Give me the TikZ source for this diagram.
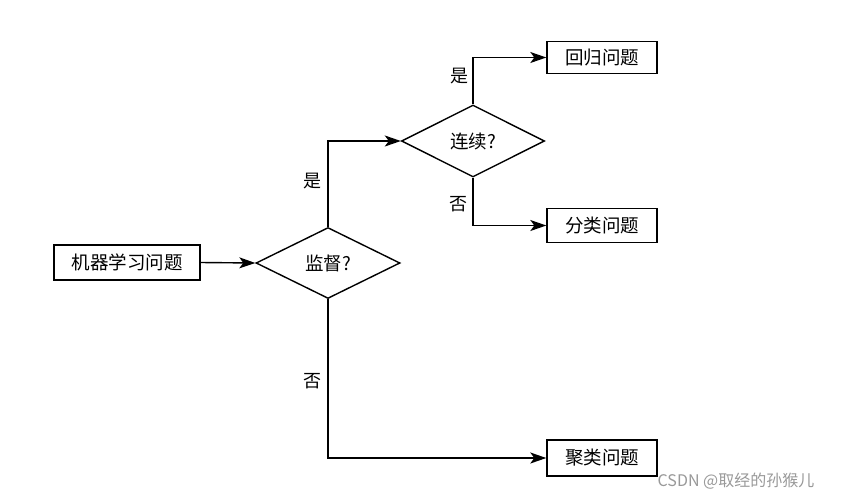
\documentclass[tikz,border=0pt]{standalone}
\usepackage{fontspec}
\setmainfont{Noto Sans CJK SC}
\usetikzlibrary{shapes.geometric,arrows.meta}
\tikzset{
  box/.style={draw, line width=1.4pt, minimum width=110pt, minimum height=33pt, inner sep=0pt, font=\fontsize{18.5}{21}\selectfont},
  dia/.style={draw, diamond, line width=1.4pt, inner sep=0pt, minimum width=144pt, minimum height=71pt, font=\fontsize{18.5}{21}\selectfont},
  arr/.style={line width=1.4pt, -{Stealth[length=16pt,width=11pt,inset=4pt]}},
  lbl/.style={font=\fontsize{18}{21}\selectfont, inner sep=0pt}
}
\begin{document}
\begin{tikzpicture}[x=1pt,y=-1pt]
\useasboundingbox (0,0) rectangle (847,499);
\fill[white] (0,0) rectangle (847,499);
\node[box, minimum width=146pt, minimum height=35pt] (ml) at (127,262.5) {机器学习问题};
\node[dia] (d1) at (328,263) {监督?};
\node[dia, minimum width=143pt, minimum height=72pt] (d2) at (473,141) {连续?};
\node[box, minimum height=32pt] (r1) at (602,57.5) {回归问题};
\node[box, minimum height=34pt] (r2) at (602,225.5) {分类问题};
\node[box, minimum height=36pt] (r3) at (602,458) {聚类问题};
\draw[arr] (ml.east) -- (d1.west);
\draw[arr] (d1.north) |- (d2.west);
\draw[arr] (d2.north) |- (r1.west);
\draw[arr] (d2.south) |- (r2.west);
\draw[arr] (d1.south) |- (r3.west);
\node[lbl] (l1) at (312,181) {是};
\node[lbl] (l2) at (312,381) {否};
\node[lbl] (l3) at (459,76) {是};
\node[lbl] (l4) at (458,204) {否};
\node[font=\fontsize{16}{18}\selectfont, text=black!40, inner sep=0pt] (wm) at (736,481) {CSDN @取经的孙猴儿};
\end{tikzpicture}
\end{document}
